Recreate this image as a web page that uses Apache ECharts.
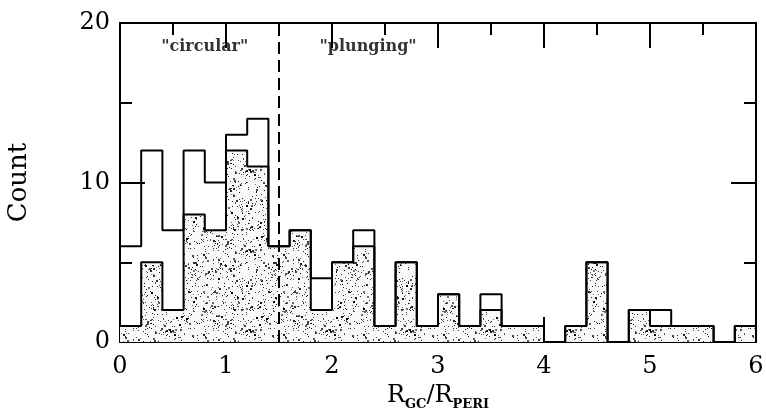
<!DOCTYPE html>
<html>
<head>
<meta charset="utf-8">
<script src="https://cdn.jsdelivr.net/npm/echarts@6/dist/echarts.min.js"></script>
<style>
  html, body { margin: 0; padding: 0; background: #fff; }
  #chart { width: 766px; height: 408px; }
</style>
</head>
<body>
<div id="chart"></div>
<script>
// histogram bins, width 0.2, starting at 0
var binWidth = 0.2;
var totalCounts = [6, 12, 7, 12, 10, 13, 14, 6, 7, 4, 5, 7, 1, 5, 1, 3, 1, 3, 1, 1, 0, 1, 5, 0, 2, 2, 1, 1, 0, 1];
var subsetCounts = [1, 5, 2, 8, 7, 12, 11, 6, 7, 2, 5, 6, 1, 5, 1, 3, 1, 2, 1, 1, 0, 1, 5, 0, 2, 1, 1, 1, 0, 1];
var xTicks = [0, 1, 2, 3, 4, 5, 6];
var yTicks = [0, 10, 20];
var divider = 1.5;
var notes = [[0.8, 18.5, '"circular"'], [2.34, 18.5, '"plunging"']];

var serif = 'DejaVu Serif';

// step points: left edge of each bin, then closing point at the right edge
function stepData(counts) {
  var pts = counts.map(function (c, i) { return [+(i * binWidth).toFixed(2), c]; });
  pts.push([+(counts.length * binWidth).toFixed(2), 0]);
  return pts;
}

// stipple texture (fixed pseudo-random dots, just a fill style)
function stipple() {
  var cv = document.createElement('canvas');
  cv.width = 80; cv.height = 80;
  var ctx = cv.getContext('2d');
  ctx.fillStyle = '#f8f8f8';
  ctx.fillRect(0, 0, 80, 80);
  var seed = 12345;
  function rnd() { seed = (seed * 1103515245 + 12345) % 2147483648; return seed / 2147483648; }
  for (var k = 0; k < 520; k++) {
    var g = Math.floor(rnd() * 120);
    ctx.fillStyle = 'rgb(' + g + ',' + g + ',' + g + ')';
    var s = rnd() < 0.15 ? 2 : 1;
    ctx.fillRect(Math.floor(rnd() * 80), Math.floor(rnd() * 80), s, s);
  }
  return cv;
}

var chart = echarts.init(document.getElementById('chart'));

var tickLabel = { color: '#000', fontFamily: serif, fontSize: 24 };
var line = { color: '#000', width: 2 };

function frameAxis(extra) {
  return Object.assign({
    type: 'value',
    axisLine: { show: true, onZero: false, lineStyle: line },
    axisTick: { show: true, inside: true, length: 25, lineStyle: line },
    minorTick: { show: true, splitNumber: 2, length: 12, lineStyle: line },
    splitLine: { show: false },
    axisLabel: { show: false }
  }, extra);
}

chart.setOption({
  animation: false,
  grid: { left: 120, right: 10, top: 23, bottom: 66, containLabel: false, outerBoundsMode: 'none' },
  xAxis: [frameAxis({
    min: 0, max: 6, interval: 1, position: 'bottom',
    axisLabel: Object.assign({ margin: 13, formatter: function (v) { return xTicks.indexOf(v) >= 0 ? v : ''; } }, tickLabel),
    name: '{r|R}{s|GC}{r|/R}{s|PERI}',
    nameLocation: 'middle', nameGap: 36,
    nameTextStyle: {
      rich: {
        r: { fontFamily: serif, fontSize: 24, color: '#000', lineHeight: 27, verticalAlign: 'top' },
        s: { fontFamily: serif, fontSize: 13, fontWeight: 'bold', color: '#000', lineHeight: 14, verticalAlign: 'bottom' }
      }
    }
  }), frameAxis({
    min: 0, max: 6, interval: 1, position: 'top'
  })],
  yAxis: [frameAxis({
    min: 0, max: 20, interval: 10, position: 'left',
    axisLabel: Object.assign({ margin: 10, formatter: function (v) { return yTicks.indexOf(v) >= 0 ? v : ''; } }, tickLabel),
    name: 'Count', nameLocation: 'middle', nameGap: 88,
    nameTextStyle: { fontFamily: serif, fontSize: 26, color: '#000' }
  }), frameAxis({
    min: 0, max: 20, interval: 10, position: 'right'
  })],
  series: [{
    name: 'subset', type: 'line', step: 'end', data: stepData(subsetCounts),
    symbol: 'none', z: 2,
    lineStyle: line,
    areaStyle: { color: { image: stipple(), repeat: 'repeat' }, opacity: 1 }
  }, {
    name: 'total', type: 'line', step: 'end', data: stepData(totalCounts),
    symbol: 'none', z: 3,
    lineStyle: line
  }, {
    name: 'divider', type: 'line', data: [[divider, 0], [divider, 20]],
    symbol: 'none', z: 4,
    lineStyle: { color: '#000', width: 2, type: [12, 6] }
  }, {
    name: 'notes', type: 'scatter', symbolSize: 0, z: 5, silent: true,
    data: notes.map(function (n) { return { value: [n[0], n[1]], label: { formatter: n[2] } }; }),
    label: { show: true, position: 'inside', color: '#000', fontFamily: serif, fontWeight: 'bold', fontSize: 16 }
  }]
});
</script>
</body>
</html>
